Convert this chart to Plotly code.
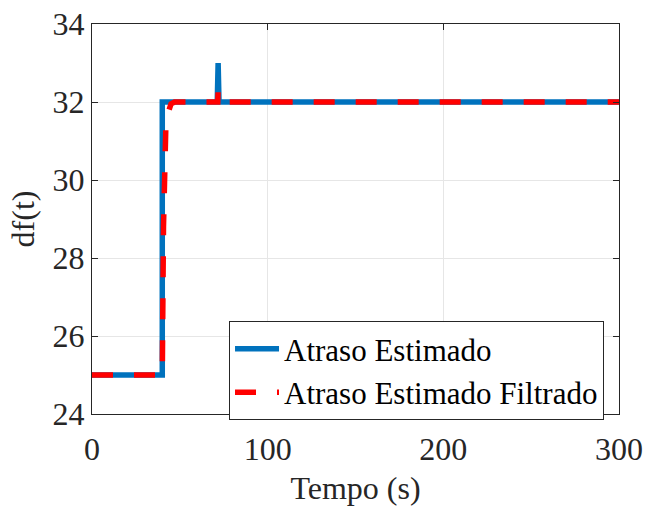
import plotly.graph_objects as go

# Atraso Estimado (blue solid)
t_est = [0, 40, 40, 71.3, 71.8, 72.3, 300]
df_est = [25, 25, 32, 32, 33, 32, 32]

# Atraso Estimado Filtrado (red dashed)
t_filt = [0, 40, 40.7, 41.3, 42, 42.8, 43.8, 45, 47, 50, 71.6, 71.8, 72.6, 73.5, 74.5, 76, 300]
df_filt = [25, 25, 28.8, 30.6, 31.3, 31.65, 31.85, 31.95, 32, 32, 32, 32.3, 32.15, 32.07, 32.02, 32, 32]

font_family = "'Times New Roman', 'Liberation Serif', serif"

fig = go.Figure()
fig.add_trace(go.Scatter(x=t_est, y=df_est, mode="lines", name="Atraso Estimado",
                         line=dict(color="#0072BD", width=5.5)))
fig.add_trace(go.Scatter(x=t_filt, y=df_filt, mode="lines", name="Atraso Estimado Filtrado",
                         line=dict(color="#FF0000", width=5.5, dash="21px,21px")))

axis_common = dict(showline=True, linecolor="#262626", linewidth=1, mirror="ticks",
                   ticks="inside", ticklen=6, tickcolor="#262626",
                   showgrid=True, gridcolor="#e6e6e6", gridwidth=1, zeroline=False,
                   automargin=False,
                   tickfont=dict(family=font_family, size=32, color="#262626"))

fig.update_layout(
    width=645, height=506,
    margin=dict(l=92, r=26, t=24, b=92),
    paper_bgcolor="white", plot_bgcolor="white",
    font=dict(family=font_family, color="#262626"),
    xaxis=dict(range=[0, 300], tickvals=[0, 100, 200, 300], ticklabelstandoff=7,
               title=dict(text="Tempo (s)", font=dict(family=font_family, size=32), standoff=14),
               **axis_common),
    yaxis=dict(range=[24, 34], tickvals=[24, 26, 28, 30, 32, 34],
               title=dict(text="df(t)", font=dict(family=font_family, size=32), standoff=8),
               **axis_common),
    legend=dict(x=0.26, y=0.238, xanchor="left", yanchor="top",
                bgcolor="white", bordercolor="#262626", borderwidth=1,
                font=dict(family=font_family, size=31, color="black"),
                itemwidth=44, tracegroupgap=0),
    showlegend=True,
)

fig.write_html("out.html")
